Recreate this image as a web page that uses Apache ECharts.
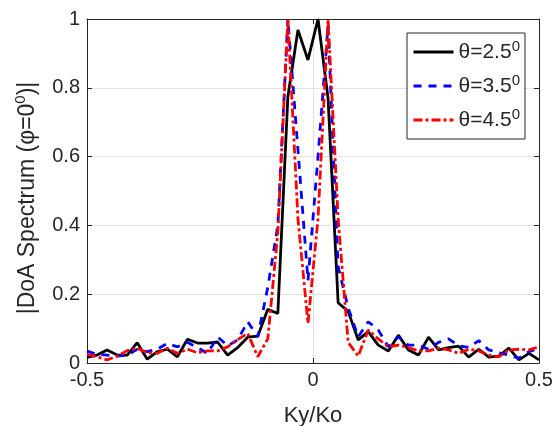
<!DOCTYPE html>
<html><head><meta charset="utf-8">
<script src="https://cdn.jsdelivr.net/npm/echarts@6/dist/echarts.min.js"></script>
<style>html,body{margin:0;padding:0;background:#fff}#c{width:556px;height:426px}</style>
</head><body><div id="c"></div>
<script>
// Ky/Ko sample positions
const xValues = [-0.5,-0.4778,-0.4556,-0.4333,-0.4111,-0.3889,-0.3667,-0.3444,-0.3222,-0.3,
  -0.2778,-0.2556,-0.2333,-0.2111,-0.1889,-0.1667,-0.1444,-0.1222,-0.1,-0.0778,
  -0.0556,-0.0333,-0.0111,0.0111,0.0333,0.0556,0.0778,0.1,0.1222,0.1444,
  0.1667,0.1889,0.2111,0.2333,0.2556,0.2778,0.3,0.3222,0.3444,0.3667,
  0.3889,0.4111,0.4333,0.4556,0.4778,0.5];
const seriesNames = ['θ=2.5','θ=3.5','θ=4.5'];
const theta25 = [0.016,0.023,0.038,0.023,0.023,0.059,0.011,0.033,0.040,0.018,
  0.069,0.058,0.058,0.061,0.023,0.045,0.075,0.078,0.156,0.144,
  0.774,0.968,0.881,1.0,0.77,0.175,0.15,0.067,0.091,0.052,
  0.035,0.081,0.038,0.023,0.075,0.038,0.045,0.049,0.017,0.040,
  0.017,0.020,0.043,0.009,0.028,0.009];
const theta35 = [0.035,0.025,0.023,0.020,0.023,0.040,0.033,0.040,0.057,0.047,
  0.060,0.045,0.028,0.076,0.050,0.067,0.120,0.076,0.220,0.400,
  1.0,0.62,0.24,0.60,0.98,0.28,0.16,0.076,0.120,0.096,
  0.047,0.076,0.052,0.052,0.040,0.060,0.070,0.050,0.045,0.065,
  0.038,0.030,0.023,0.014,0.033,0.043];
const theta45 = [0.025,0.018,0.009,0.020,0.036,0.043,0.030,0.028,0.043,0.028,
  0.040,0.030,0.035,0.035,0.047,0.068,0.086,0.018,0.070,0.380,
  1.0,0.42,0.115,0.42,1.0,0.42,0.06,0.02,0.096,0.070,
  0.047,0.052,0.045,0.035,0.035,0.043,0.038,0.028,0.040,0.035,
  0.023,0.018,0.038,0.040,0.038,0.047];

const FONT = '"Liberation Sans", Arial, Helvetica, sans-serif';
const TXT = '#262626';
const GRIDC = '#e2e2e2';
function pairs(ys){ return xValues.map((x,i)=>[x, ys[i]]); }

const chart = echarts.init(document.getElementById('c'), null, {renderer:'canvas'});
const axisLineStyle = {show:true, onZero:false, lineStyle:{color:TXT, width:1}};
const tickStyle = {show:true, inside:true, length:5, lineStyle:{color:TXT, width:1}};
chart.setOption({
  animation:false,
  backgroundColor:'#fff',
  grid:{left:87, right:17, top:19, bottom:63, containLabel:false, outerBoundsMode:'none'},
  xAxis:[{
    type:'value', min:-0.5, max:0.5, interval:0.5, position:'bottom',
    name:'Ky/Ko', nameLocation:'middle', nameGap:42,
    nameTextStyle:{fontFamily:FONT, fontSize:22, color:TXT},
    axisLine:axisLineStyle, axisTick:tickStyle,
    axisLabel:{margin:7, fontFamily:FONT, fontSize:20, color:TXT},
    splitLine:{show:true, lineStyle:{color:GRIDC, width:1}}
  },{
    type:'value', min:-0.5, max:0.5, interval:0.5, position:'top',
    axisLine:axisLineStyle, axisTick:tickStyle,
    axisLabel:{show:false}, splitLine:{show:false}
  }],
  yAxis:[{
    type:'value', min:0, max:1, interval:0.2, position:'left',
    name:'|DoA Spectrum (φ=0{s|0})|', nameLocation:'middle', nameGap:39,
    nameTextStyle:{fontFamily:FONT, fontSize:23, color:TXT, lineHeight:28, padding:[0,14,0,0],
      rich:{s:{fontFamily:FONT, fontSize:15, color:TXT, lineHeight:4, verticalAlign:'top'}}},
    axisLine:axisLineStyle, axisTick:tickStyle,
    axisLabel:{margin:7, fontFamily:FONT, fontSize:20, color:TXT},
    splitLine:{show:true, lineStyle:{color:GRIDC, width:1}}
  },{
    type:'value', min:0, max:1, interval:0.2, position:'right',
    axisLine:axisLineStyle, axisTick:tickStyle,
    axisLabel:{show:false}, splitLine:{show:false}
  }],
  legend:{
    orient:'vertical', left:407, top:33,
    padding:[6,5,6,5], itemGap:8, itemWidth:40, itemHeight:14,
    backgroundColor:'#fff', borderColor:TXT, borderWidth:1, borderRadius:0,
    itemStyle:{color:'rgba(0,0,0,0)', borderColor:'rgba(0,0,0,0)', borderWidth:0, opacity:0},
    lineStyle:{width:3},
    data:seriesNames,
    formatter: n => '{b|' + n + '}{s|0}',
    textStyle:{color:TXT, fontFamily:FONT, fontSize:21, lineHeight:26,
      rich:{
        b:{fontFamily:FONT, fontSize:21, color:TXT, lineHeight:26},
        s:{fontFamily:FONT, fontSize:15, color:TXT, lineHeight:4, verticalAlign:'top'}
      }}
  },
  series:[
    {name:seriesNames[0], type:'line', data:pairs(theta25), symbol:'none', z:2,
     itemStyle:{color:'#000000'}, lineStyle:{color:'#000000', width:2.8, type:'solid'}},
    {name:seriesNames[1], type:'line', data:pairs(theta35), symbol:'none', z:3,
     itemStyle:{color:'#0000ff'}, lineStyle:{color:'#0000ff', width:2.8, type:[8,7]}},
    {name:seriesNames[2], type:'line', data:pairs(theta45), symbol:'none', z:4,
     itemStyle:{color:'#ff0000'}, lineStyle:{color:'#ff0000', width:2.8, type:[9,3,3,3]}}
  ]
});
</script></body></html>
